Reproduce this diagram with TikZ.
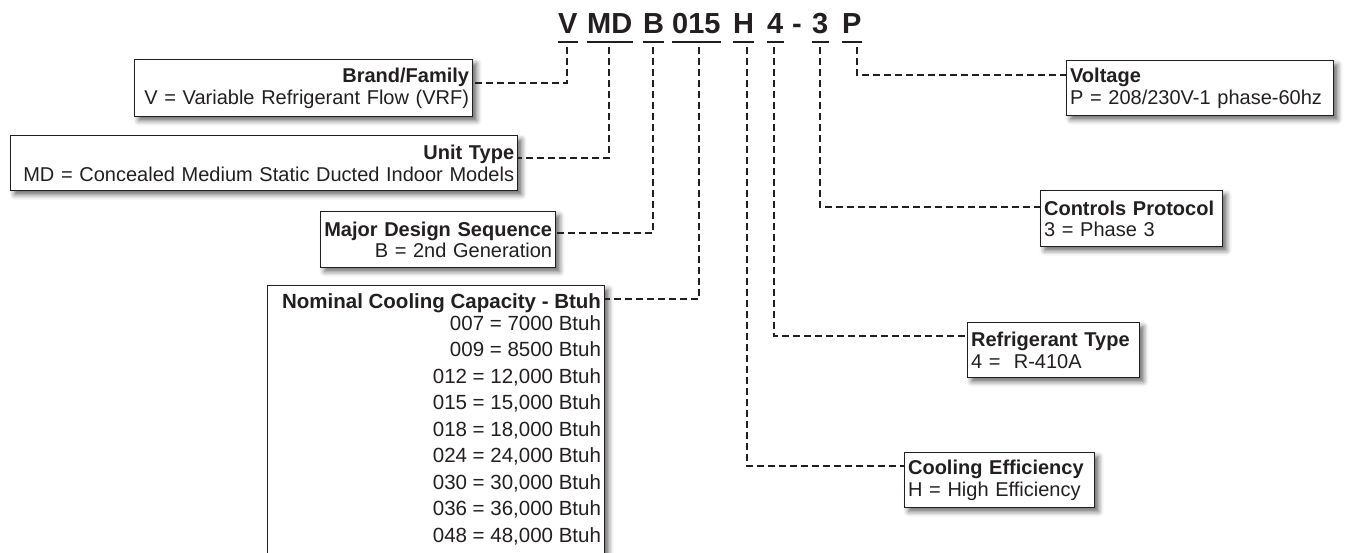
\documentclass[tikz,border=0pt]{standalone}
\usepackage{fontspec}
\setmainfont{Liberation Sans}
\usetikzlibrary{shadows.blur}
\definecolor{ink}{HTML}{231F20}
\begin{document}
\begin{tikzpicture}[x=1pt,y=-1pt,
  box/.style={draw=ink, line width=1.2pt, fill=white,
    blur shadow={shadow xshift=4pt, shadow yshift=-4pt, shadow blur radius=5pt, shadow opacity=60},
    inner xsep=3.5pt, inner ysep=0pt, font=\fontsize{20}{21.5}\selectfont, text=ink},
  rbox/.style={box, align=right},
  lbox/.style={box, align=left},
  code/.style={font=\fontsize{29}{30}\bfseries\selectfont, text=ink, inner sep=0pt, anchor=base west},
  uline/.style={line width=2.2pt, draw=ink},
  conn/.style={draw=ink, line width=2pt, dash pattern=on 7pt off 4pt}]
\useasboundingbox (0,0) rectangle (1351,552);

% code letters
\node[code] (cV) at (558,33) {V};
\node[code] (cMD) at (587,33) {MD};
\node[code] (cB) at (643,33) {B};
\node[code] (c015) at (672,33) {015};
\node[code] (cH) at (733,33) {H};
\node[code] (c4) at (767,33) {4};
\node[code] (cdash) at (792,33) {-};
\node[code] (c3) at (812,33) {3};
\node[code] (cP) at (842,33) {P};
\foreach \n in {cV,cMD,cB,c015,cH,c4,c3,cP}{
  \draw[uline] ([yshift=-9pt]\n.base west) -- ([yshift=-9pt]\n.base east);
}

% start points of connectors
\coordinate (tV) at (567,47);
\coordinate (tMD) at (609,47);
\coordinate (tB) at (653,47);
\coordinate (t015) at (699,47);
\coordinate (tH) at (747,47);
\coordinate (t4) at (774,47);
\coordinate (t3) at (820,47);
\coordinate (tP) at (857,47);

% boxes
\node[rbox, anchor=north west, minimum width=338pt, minimum height=57pt, text width=331pt] (brand) at (134,59)
  {\mbox{\textbf{Brand/Family}}\\\mbox{V = Variable Refrigerant Flow (VRF)}};
\node[rbox, anchor=north west, minimum width=507pt, minimum height=55pt, text width=500pt] (unit) at (10,135)
  {\mbox{\textbf{Unit Type}}\\\mbox{MD = Concealed Medium Static Ducted Indoor Models}};
\node[rbox, anchor=north west, minimum width=235pt, minimum height=56pt, text width=228pt] (major) at (320,211)
  {\mbox{\textbf{Major Design Sequence}}\\\mbox{B = 2nd Generation}};
\node[box, anchor=north west, minimum width=337pt, minimum height=290pt] (nom) at (267,285) {};
\node[anchor=north east, align=right, inner sep=0pt, font=\fontsize{20.5}{22}\selectfont, text=ink] (nomtext)
  at ([xshift=-4pt,yshift=-8pt]nom.north east)
  {\textbf{Nominal Cooling Capacity - Btuh}\\
   007 = 7000 Btuh\\[4.5pt]
   009 = 8500 Btuh\\[4.5pt]
   012 = 12,000 Btuh\\[4.5pt]
   015 = 15,000 Btuh\\[4.5pt]
   018 = 18,000 Btuh\\[4.5pt]
   024 = 24,000 Btuh\\[4.5pt]
   030 = 30,000 Btuh\\[4.5pt]
   036 = 36,000 Btuh\\[4.5pt]
   048 = 48,000 Btuh};
\node[lbox, anchor=north west, minimum width=267pt, minimum height=55pt, text width=260pt] (volt) at (1066,60)
  {\mbox{\textbf{Voltage}}\\\mbox{P = 208/230V-1 phase-60hz}};
\node[lbox, anchor=north west, minimum width=182pt, minimum height=56pt, text width=175pt] (ctrl) at (1040,190)
  {\mbox{\textbf{Controls Protocol}}\\\mbox{3 = Phase 3}};
\node[lbox, anchor=north west, minimum width=172pt, minimum height=55pt, text width=165pt] (refr) at (967,322)
  {\mbox{\textbf{Refrigerant Type}}\\\mbox{4 =\ \ R-410A}};
\node[lbox, anchor=north west, minimum width=190pt, minimum height=55pt, text width=183pt] (cool) at (904,452)
  {\mbox{\textbf{Cooling Efficiency}}\\\mbox{H = High Efficiency}};

% connectors
\draw[conn] (tV) |- ([yshift=-24pt]brand.north east);
\draw[conn] (tMD) |- ([yshift=-23pt]unit.north east);
\draw[conn] (tB) |- ([yshift=-22pt]major.north east);
\draw[conn] (t015) |- ([yshift=-14pt]nom.north east);
\draw[conn] (tH) |- ([yshift=-14pt]cool.north west);
\draw[conn] (t4) |- ([yshift=-14pt]refr.north west);
\draw[conn] (t3) |- ([yshift=-17pt]ctrl.north west);
\draw[conn] (tP) |- ([yshift=-15pt]volt.north west);
\end{tikzpicture}
\end{document}
